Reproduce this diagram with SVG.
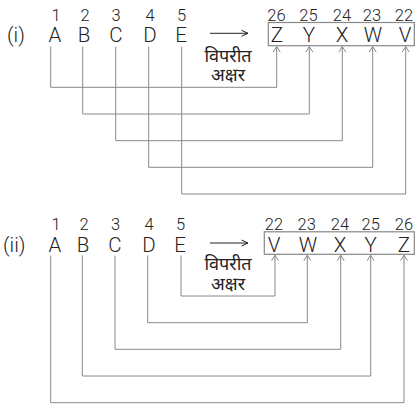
<svg xmlns="http://www.w3.org/2000/svg" width="416" height="405" viewBox="0 0 416 405">
<style>
text{font-family:Roboto,"Liberation Sans",Arial,sans-serif;font-weight:300;fill:#222;}
.n{font-size:16.5px;text-anchor:middle;}
.l{font-size:20.5px;text-anchor:middle;}
.lab{font-size:20.5px;}
.hi{font-family:"Noto Sans Devanagari","Lohit Devanagari","Noto Sans",sans-serif;font-weight:400;font-size:18px;text-anchor:middle;}
.box{fill:none;stroke:#888;stroke-width:1.2;}
.c{fill:none;stroke:#888;stroke-width:1;marker-end:url(#ah);}
.ar{fill:none;stroke:#222;stroke-width:1;}
</style>
<defs>
<marker id="ah" markerUnits="userSpaceOnUse" viewBox="-7 -5 8 10" refX="0" refY="0" markerWidth="8" markerHeight="10" orient="auto">
<path d="M-5.5,-3.5 L0,0 L-5.5,3.5" fill="none" stroke="#888" stroke-width="1"/>
</marker>
</defs>

<g id="part1">
<text class="lab" x="7" y="42">(i)</text>
<g id="src1">
<text class="n" x="56" y="20.5">1</text><text class="n" x="85" y="20.5">2</text><text class="n" x="116" y="20.5">3</text><text class="n" x="150" y="20.5">4</text><text class="n" x="181.5" y="20.5">5</text>
<text class="l" x="55" y="42">A</text><text class="l" x="84" y="42">B</text><text class="l" x="116" y="42">C</text><text class="l" x="150" y="42">D</text><text class="l" x="181" y="42">E</text>
</g>
<g id="arrow1">
<path class="ar" d="M210,33.3 H248 M241.5,30.3 L248,33.3 L241.5,36.3"/>
<text class="hi" x="228" y="61.5">विपरीत</text>
<text class="hi" x="228" y="81">अक्षर</text>
</g>
<g id="dst1">
<rect class="box" x="268.3" y="22.5" width="146" height="23.2"/>
<text class="n" x="276.5" y="20.5">26</text><text class="n" x="308.5" y="20.5">25</text><text class="n" x="342" y="20.5">24</text><text class="n" x="372" y="20.5">23</text><text class="n" x="404" y="20.5">22</text>
<text class="l" x="277" y="42">Z</text><text class="l" x="309" y="42">Y</text><text class="l" x="342" y="42">X</text><text class="l" x="373" y="42">W</text><text class="l" x="405" y="42">V</text>
</g>
</g>

<g id="part2">
<text class="lab" x="3" y="251.7">(ii)</text>
<g id="src2">
<text class="n" x="56" y="229.5">1</text><text class="n" x="84" y="229.5">2</text><text class="n" x="115.5" y="229.5">3</text><text class="n" x="149" y="229.5">4</text><text class="n" x="180.5" y="229.5">5</text>
<text class="l" x="55" y="251.7">A</text><text class="l" x="83" y="251.7">B</text><text class="l" x="115" y="251.7">C</text><text class="l" x="149" y="251.7">D</text><text class="l" x="180" y="251.7">E</text>
</g>
<g id="arrow2">
<path class="ar" d="M210,243 H248 M241.5,240 L248,243 L241.5,246"/>
<text class="hi" x="228" y="270">विपरीत</text>
<text class="hi" x="228" y="289.5">अक्षर</text>
</g>
<g id="dst2">
<rect class="box" x="264.3" y="231.8" width="150" height="22.5"/>
<text class="n" x="274" y="229.5">22</text><text class="n" x="306.7" y="229.5">23</text><text class="n" x="340" y="229.5">24</text><text class="n" x="370.7" y="229.5">25</text><text class="n" x="404" y="229.5">26</text>
<text class="l" x="274" y="251.7">V</text><text class="l" x="308" y="251.7">W</text><text class="l" x="340" y="251.7">X</text><text class="l" x="370.7" y="251.7">Y</text><text class="l" x="404" y="251.7">Z</text>
</g>
</g>

<g id="connectors">
<path class="c" d="M50.7,46.5 V87.3 H276.7 V46.6"/>
<path class="c" d="M82.7,46.5 V114 H309.3 V46.6"/>
<path class="c" d="M115.7,46.5 V140.7 H342.3 V46.6"/>
<path class="c" d="M148.7,46.5 V167.3 H372.7 V46.6"/>
<path class="c" d="M181.7,46.5 V194 H405.7 V46.6"/>
<path class="c" d="M181,255.5 V296 H275 V255.2"/>
<path class="c" d="M147.7,255.5 V322.7 H307.3 V255.2"/>
<path class="c" d="M115,255.5 V349.3 H340.7 V255.2"/>
<path class="c" d="M82.3,255.5 V376 H370.7 V255.2"/>
<path class="c" d="M50.7,255.5 V402.7 H404 V255.2"/>
</g>
</svg>
